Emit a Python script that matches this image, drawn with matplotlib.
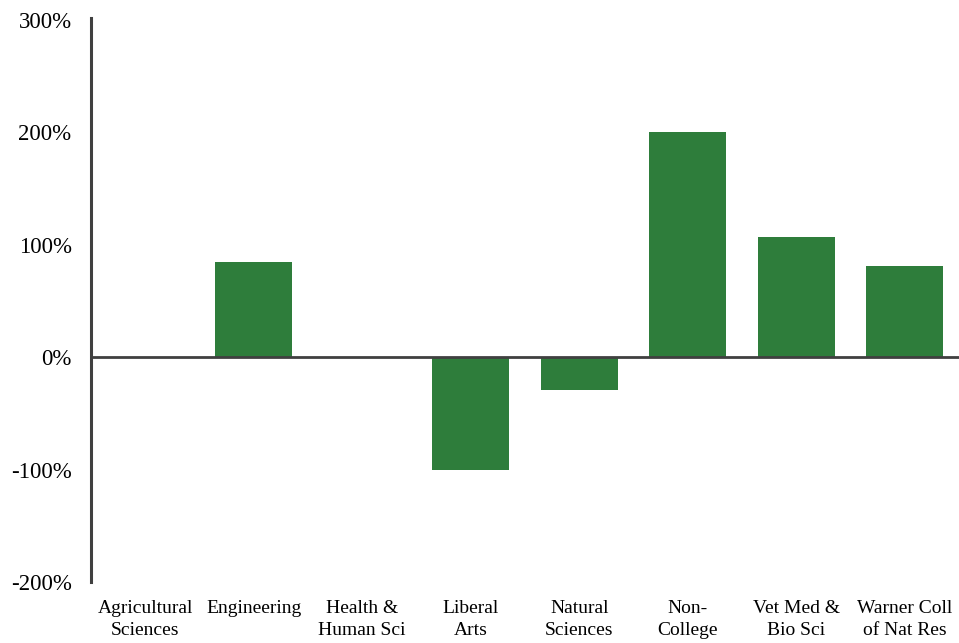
import matplotlib; matplotlib.use("Agg")
import matplotlib.pyplot as plt
import numpy as np
from matplotlib.ticker import FuncFormatter

colleges = ['Agricultural\nSciences', 'Engineering', 'Health &\nHuman Sci', 'Liberal\nArts',
            'Natural\nSciences', 'Non-\nCollege', 'Vet Med &\nBio Sci', 'Warner Coll\nof Nat Res']
change = [0, 85, 0, -100, -29, 200, 107, 81]
yticks = [-200, -100, 0, 100, 200, 300]
GREEN = '#2e7d3b'; AXIS = '#404040'

plt.rcParams.update({'font.family': ['Liberation Serif', 'DejaVu Serif'], 'font.size': 13})
fig = plt.figure(figsize=(9.59, 6.43), dpi=100)
ax = fig.add_axes([91/959, 61/643, 868/959, 562/643])
x = np.arange(len(colleges))
ax.bar(x, change, width=0.71, color=GREEN, zorder=2)
ax.axhline(0, color=AXIS, lw=2, zorder=3)
ax.set_xlim(-0.5, len(colleges) - 0.5)
ax.set_ylim(-200, 300)
ax.set_yticks(yticks)
ax.yaxis.set_major_formatter(FuncFormatter(lambda v, p: f'{v:.0f}%'))
ax.set_xticks(x); ax.set_xticklabels(colleges, linespacing=1.4)
ax.tick_params(axis='y', length=0, pad=14, labelsize=16.5)
ax.tick_params(axis='x', length=0, pad=13, labelsize=14)
for s in ('top', 'right', 'bottom'): ax.spines[s].set_visible(False)
ax.spines['left'].set_color(AXIS); ax.spines['left'].set_linewidth(2.2)
ax.spines['left'].set_bounds(-200, 302)
fig.savefig('out.png', dpi=100)
